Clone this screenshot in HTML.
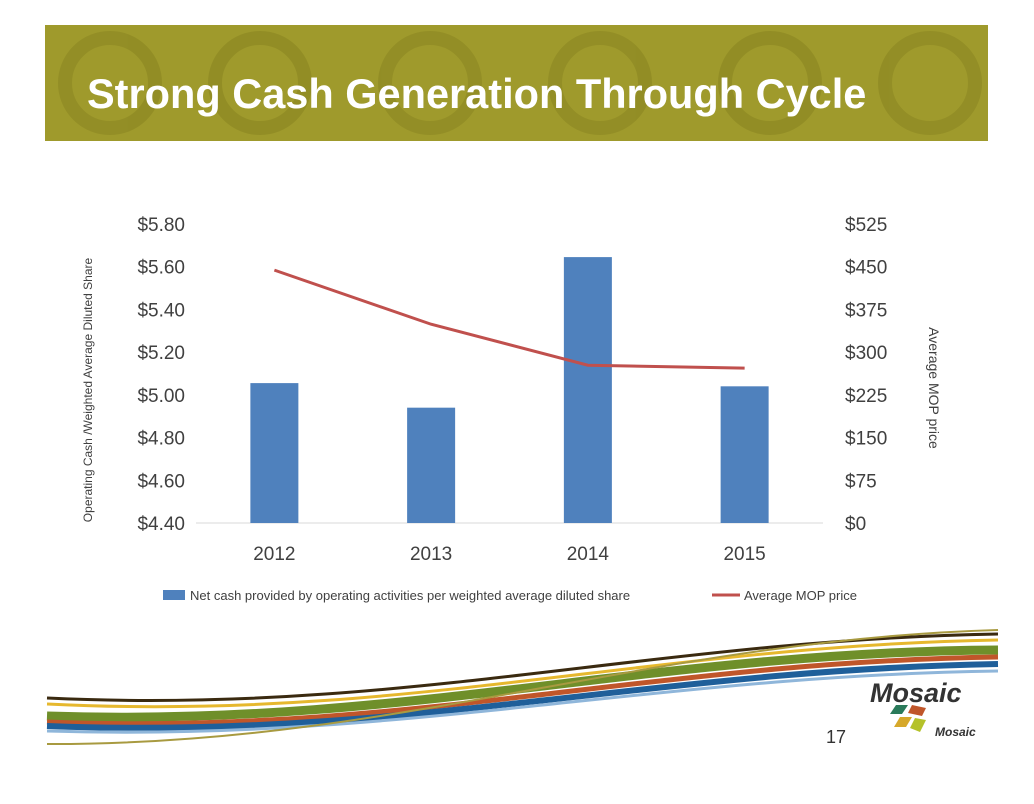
<!DOCTYPE html>
<html><head><meta charset="utf-8"><style>
body{margin:0;width:1034px;height:799px;background:#fff;overflow:hidden;font-family:"Liberation Sans",sans-serif;}
</style></head><body>
<svg width="1034" height="799" viewBox="0 0 1034 799" xmlns="http://www.w3.org/2000/svg">
<rect x="45" y="25" width="943" height="116" fill="#9f9a2c"/>
<g opacity="0.25" fill="none" stroke="#6e6a12" stroke-width="14">
<circle cx="110" cy="83" r="45"/><circle cx="260" cy="83" r="45"/><circle cx="430" cy="83" r="45"/><circle cx="600" cy="83" r="45"/><circle cx="770" cy="83" r="45"/><circle cx="930" cy="83" r="45"/>
</g>
<text x="87" y="108" font-size="41.5" font-weight="bold" fill="#fff">Strong Cash Generation Through Cycle</text>
<g id="chart" font-family="Liberation Sans, sans-serif"></g>
<g fill="none">
<path d="M47,698 C400,715 650,640 998,634" stroke="#3a2a10" stroke-width="3"/>
<path d="M47,704 C400,722 650,646 998,640" stroke="#e6b82e" stroke-width="3"/>
<path d="M47,716 C400,728 650,652 998,650" stroke="#6f8f2a" stroke-width="9"/>
<path d="M47,722 C400,736 650,662 998,657" stroke="#c0562a" stroke-width="5"/>
<path d="M47,726 C400,740 650,670 998,664" stroke="#1f5f9a" stroke-width="6"/>
<path d="M47,731 C400,742 650,676 998,671" stroke="#8fb6da" stroke-width="3"/>
<path d="M47,744 C400,745 650,640 998,630" stroke="#a89a40" stroke-width="2"/>
</g>
<text x="870" y="702" font-size="27" font-weight="bold" font-style="italic" fill="#333">Mosaic</text>
<g>
<polygon points="896,705 908,705 902,714 890,714" fill="#2a7a5a"/>
<polygon points="912,705 926,708 922,716 908,713" fill="#c0562a"/>
<polygon points="900,717 912,717 906,727 894,727" fill="#d6a82a"/>
<polygon points="915,718 926,720 920,732 910,728" fill="#b5c22a"/>
</g>
<text x="935" y="736" font-size="12" font-weight="bold" font-style="italic" fill="#333">Mosaic</text>
<text x="826" y="743" font-size="18" fill="#333">17</text>
</svg>
<script>
const categories=["2012","2013","2014","2015"];
const cashPerShare=[5.055,4.94,5.645,5.04];
const mopPrice=[444,349,277,272];
const leftTicks=["$4.40","$4.60","$4.80","$5.00","$5.20","$5.40","$5.60","$5.80"];
const rightTicks=["$0","$75","$150","$225","$300","$375","$450","$525"];
const NS="http://www.w3.org/2000/svg";
const g=document.getElementById('chart');
const X0=196,X1=823,Y0=523,Y1=224;
const yL=v=>Y0-(v-4.4)/1.4*(Y0-Y1);
const yR=v=>Y0-v/525*(Y0-Y1);
const band=(X1-X0)/categories.length;
const xC=i=>X0+band*(i+0.5);
function el(t,a,txt){const e=document.createElementNS(NS,t);for(const k in a)e.setAttribute(k,a[k]);if(txt!==undefined)e.textContent=txt;g.appendChild(e);return e;}
let e=el('line',{x1:X0,x2:X1,y1:Y0,y2:Y0,stroke:'#d9d9d9'});


leftTicks.forEach((t,i)=>{const v=4.4+i*0.2;const l=el('text',{x:185,y:yL(v)+7,'font-size':19,'text-anchor':'end',fill:'#404040'},t);

});
rightTicks.forEach((t,i)=>{const l=el('text',{x:845,y:yR(i*75)+7,'font-size':19,fill:'#404040'},t);

});
categories.forEach((c,i)=>{
const b=el('rect',{x:xC(i)-24,y:yL(cashPerShare[i]),width:48,height:Y0-yL(cashPerShare[i]),fill:'#4f81bd'});


const l=el('text',{x:xC(i),y:560,'font-size':19,'text-anchor':'middle',fill:'#404040'},c);

});
const ln=el('polyline',{points:mopPrice.map((v,i)=>xC(i)+','+yR(v)).join(' '),fill:'none',stroke:'#c0504d','stroke-width':3});


let t=el('text',{transform:'translate(92,390) rotate(-90)','font-size':12,'text-anchor':'middle',fill:'#404040'},'Operating Cash /Weighted Average Diluted Share');


t=el('text',{transform:'translate(929,388) rotate(90)','font-size':14,'text-anchor':'middle',fill:'#404040'},'Average MOP price');


let s=el('rect',{x:163,y:590,width:22,height:10,fill:'#4f81bd'});


t=el('text',{x:190,y:600,'font-size':13,fill:'#404040'},'Net cash provided by operating activities per weighted average diluted share');


s=el('line',{x1:712,x2:740,y1:595,y2:595,stroke:'#c0504d','stroke-width':3});


t=el('text',{x:744,y:600,'font-size':13,fill:'#404040'},'Average MOP price');


</script>
</body></html>
